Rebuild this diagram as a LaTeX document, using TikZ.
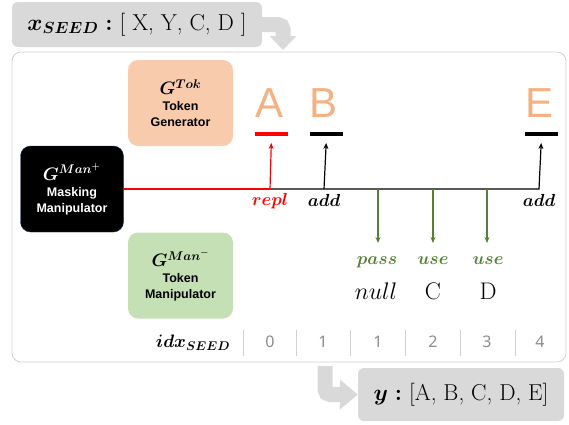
\RequirePackage{fix-cm}
\documentclass[tikz,border=0pt]{standalone}
\usepackage{amsmath}
\usepackage{bm}
\usepackage{fontspec}
\newfontfamily\labelfont{Liberation Sans}
\newfontfamily\numfont{Noto Sans}
\newfontfamily\tokfont{Liberation Sans}
\usetikzlibrary{arrows.meta,positioning}

\definecolor{boxgray}{HTML}{D9D9D9}
\definecolor{framegray}{HTML}{D0D0D0}
\definecolor{tokpeach}{HTML}{F8CBAD}
\definecolor{letterpeach}{HTML}{F4B183}
\definecolor{manigreen}{HTML}{C5E0B4}
\definecolor{flowgreen}{HTML}{548235}
\definecolor{idxgray}{HTML}{8C8C8C}
\definecolor{flowred}{HTML}{FF0000}
\definecolor{maniborder}{HTML}{1F3864}

\newcommand{\gentitle}{\fontsize{18}{18}\selectfont}

\begin{document}
\begin{tikzpicture}[x=1pt, y=-1pt,
    seedbox/.style={fill=boxgray, rounded corners=6pt, inner sep=0pt,
        font=\fontsize{23}{23}\selectfont},
    frame/.style={draw=framegray, thick, rounded corners=9pt,
        minimum width=554pt, minimum height=310pt, inner sep=0pt},
    genbox/.style={rounded corners=10pt, minimum width=105pt,
        minimum height=86pt, align=center,
        font=\labelfont\bfseries\fontsize{12.5}{16}\selectfont},
    letter/.style={text=letterpeach, inner sep=0pt,
        font=\tokfont\fontsize{42}{42}\selectfont},
    bar/.style={minimum width=33pt, minimum height=3.5pt, inner sep=0pt},
    opname/.style={inner sep=0pt, font=\fontsize{17.5}{17.5}\selectfont},
    token/.style={inner sep=0pt, font=\fontsize{24}{24}\selectfont},
    idxnum/.style={text=idxgray, inner sep=0pt,
        font=\numfont\fontsize{16}{16}\selectfont},
    flowup/.style={line width=1.2pt, -{Stealth[length=6pt,width=5pt]},
        shorten >=7pt},
    flowdown/.style={flowgreen, line width=1.2pt,
        -{Stealth[length=6pt,width=5pt]}},
    bigflow/.style={boxgray, line width=15pt, rounded corners=5pt},
    sep/.style={framegray, thick}
]
    \useasboundingbox (0,0) rectangle (569,424);

    % input and output
    \node[seedbox, minimum width=250pt, minimum height=45pt] (seed) at (137,24.5)
        {$\bm{x}_{\bm{SEED}}$ $\bm{:}$ [ X, Y, C, D ]};
    \node[seedbox, minimum width=206pt, minimum height=53pt] (ybox) at (461,394.5)
        {$\bm{y}$ $\bm{:}$ [A, B, C, D, E]};
    \coordinate (seedturn) at (283,50);
    \coordinate (ystart) at (325,366);
    \draw[bigflow, -{Triangle[length=14pt,width=26pt]}] (seed.east) -| (seedturn);
    \draw[bigflow, -{Triangle[length=18pt,width=29pt]}] (ystart) |- (ybox.west);

    \node[frame] (frame) at (289,207) {};

    % generators
    \node[genbox, fill=tokpeach] (gtok) at (180.5,103)
        {{\gentitle $\bm{G^{Tok}}$}\\Token\\Generator};
    \node[genbox, fill=black, draw=maniborder, text=white, minimum width=103pt]
        (gmanp) at (72,189)
        {{\gentitle $\bm{G^{Man^{+}}}$}\\Masking\\Manipulator};
    \node[genbox, fill=manigreen] (gmanm) at (180.5,275.5)
        {{\gentitle $\bm{G^{Man^{-}}}$}\\Token\\Manipulator};

    % positions on the sequence line
    \coordinate (slot0) at (270,189);
    \coordinate (slot1) at (324,189);
    \coordinate (slot2) at (378,189);
    \coordinate (slot3) at (433,189);
    \coordinate (slot4) at (487,189);
    \coordinate (slot5) at (539,189);

    % generated tokens
    \node[letter] (tokA) at (270,103) {A};
    \node[letter] (tokB) at (324,103) {B};
    \node[letter] (tokE) at (539,103) {E};
    \node[bar, fill=flowred] (barA) at (271.5,134) {};
    \node[bar, fill=black] (barB) at (326.5,134) {};
    \node[bar, fill=black] (barE) at (541.5,134) {};

    \draw[flowup] (gmanp.east) -- (slot5) -- (barE.south);
    \draw[flowup] (slot1) -- (barB.south);
    \draw[line width=1.2pt, flowred] (gmanp.east) -- (slot0);
    \draw[flowup, flowred] (slot0) -- (barA.south);

    \node[opname, text=flowred] (repl) at (270,201) {$\bm{repl}$};
    \node[opname] (addB) at (324,200) {$\bm{add}$};
    \node[opname] (addE) at (539,200) {$\bm{add}$};

    % kept tokens
    \coordinate (drop2) at (378,243);
    \coordinate (drop3) at (433,243);
    \coordinate (drop4) at (487,243);
    \draw[flowdown] (slot2) -- (drop2);
    \draw[flowdown] (slot3) -- (drop3);
    \draw[flowdown] (slot4) -- (drop4);

    \node[opname, text=flowgreen] (pass) at (377,262) {$\bm{pass}$};
    \node[opname, text=flowgreen] (use3) at (433,261) {$\bm{use}$};
    \node[opname, text=flowgreen] (use4) at (488,261) {$\bm{use}$};
    \node[token] (null) at (376,291) {$null$};
    \node[token] (tokC) at (433,291) {C};
    \node[token] (tokD) at (488,291) {D};

    % seed index row
    \node[inner sep=0pt, font=\fontsize{18}{18}\selectfont] (idx) at (193,343)
        {$\bm{idx}_{\bm{SEED}}$};
    \node[idxnum] (idx0) at (270,342) {0};
    \node[idxnum] (idx1) at (323,342) {1};
    \node[idxnum] (idx2) at (378,342) {1};
    \node[idxnum] (idx3) at (433,342) {2};
    \node[idxnum] (idx4) at (487,342) {3};
    \node[idxnum] (idx5) at (540,342) {4};
    \draw[sep] (243,330) -- (243,356);
    \draw[sep] (296,330) -- (296,356);
    \draw[sep] (350,330) -- (350,356);
    \draw[sep] (405,330) -- (405,356);
    \draw[sep] (460,330) -- (460,356);
    \draw[sep] (515,330) -- (515,356);
\end{tikzpicture}
\end{document}
